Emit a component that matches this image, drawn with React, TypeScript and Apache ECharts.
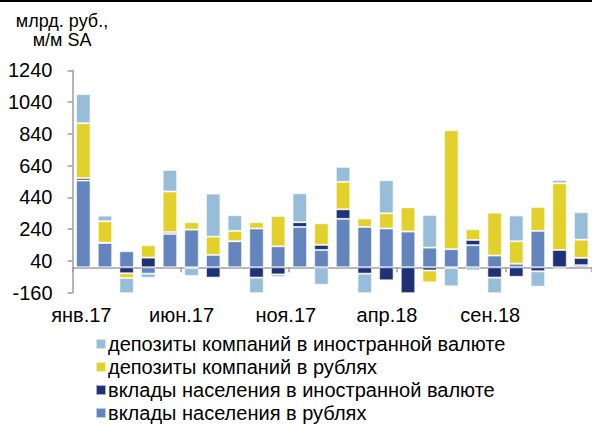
import React, { useEffect, useRef } from "react";
import * as echarts from "echarts";

const months = [
  "янв.17", "фев.17", "мар.17", "апр.17", "май.17", "июн.17", "июл.17", "авг.17", "сен.17", "окт.17", "ноя.17", "дек.17",
  "янв.18", "фев.18", "мар.18", "апр.18", "май.18", "июн.18", "июл.18", "авг.18", "сен.18", "окт.18", "ноя.18", "дек.18",
];

const householdsRub = [546, 153, 101, -40, 210, 237, 78, 164, 244, 132, 254, 109, 305, 254, 244, 225, 124, 114, 139, 74, 23, 229, -8, 13];
const householdsFx = [15, 2, -38, 61, 11, -5, -65, 0, -65, -45, 30, 32, 60, -40, -82, -170, -20, -5, 33, -65, -60, -25, 109, 46];
const companiesRub = [346, 135, -30, 78, 256, 47, 115, 65, 40, 191, 0, 136, 173, 53, 96, 153, -75, 749, 67, 270, 141, 151, 420, 115];
const companiesFx = [183, 35, -101, -27, 136, -50, 271, 99, -107, -17, 182, -110, 94, -130, 208, 0, 206, -115, -20, -107, 162, -97, 21, 173];

const seriesNames = [
  "вклады населения в рублях",
  "вклады населения в иностранной валюте",
  "депозиты компаний в рублях",
  "депозиты компаний в иностранной валюте",
];
const legendOrder = [
  "депозиты компаний в иностранной валюте",
  "депозиты компаний в рублях",
  "вклады населения в иностранной валюте",
  "вклады населения в рублях",
];
const titleLines = ["млрд. руб.,", "м/м SA"];
const colors = ["#6384BC", "#1F3278", "#E2D12B", "#97BDD8"];

const FONT = "'Liberation Sans', Arial, sans-serif";
const FS = 20;

export default function App() {
  const ref = useRef<HTMLDivElement>(null);
  useEffect(() => {
    if (!ref.current) return;
    const chart = echarts.init(ref.current, undefined, { renderer: "svg" });
    const values = [householdsRub, householdsFx, companiesRub, companiesFx];
    const labelShift: Record<string, string> = {
      "янв.17": "a",
      "июн.17": "b",
      "ноя.17": "c",
      "апр.18": "d",
      "сен.18": "e",
    };
    const rich: any = {};
    const shifts: Record<string, number> = { a: 2, b: 10, c: 14, d: 21, e: 26 };
    Object.keys(shifts).forEach((k) => {
      rich[k] = {
        fontSize: FS,
        fontFamily: FONT,
        color: "#000",
        padding: [0, shifts[k] * 2, 0, 0],
      };
    });
    chart.setOption({
      animation: false,
      backgroundColor: "#fff",
      textStyle: { fontFamily: FONT },
      grid: { left: 72.5, top: 70.3, width: 519.5, height: 222.4, containLabel: false },
      legend: {
        data: legendOrder,
        orient: "vertical",
        left: 90,
        top: 328,
        height: 100,
        itemWidth: 10,
        itemHeight: 10,
        itemGap: 1,
        icon: "rect",
        textStyle: { fontSize: FS, fontFamily: FONT, color: "#000", padding: [0, 0, 0, -3], lineHeight: 22 },
      },
      xAxis: [
        {
          type: "category",
          data: months,
          axisLine: { onZero: true, lineStyle: { color: "#9E9E9E", width: 1.5 } },
          axisTick: { show: true, interval: 4, length: 5, lineStyle: { color: "#9E9E9E", width: 1.5 } },
          axisLabel: { show: false },
        },
        {
          type: "category",
          data: months,
          position: "bottom",
          axisLine: { show: false, onZero: false },
          axisTick: { show: false },
          axisLabel: {
            interval: 4,
            margin: 12,
            fontSize: FS,
            fontFamily: FONT,
            color: "#000",
            formatter: (v: string) => (labelShift[v] ? `{${labelShift[v]}|${v}}` : v),
            rich,
          },
        },
      ],
      yAxis: {
        type: "value",
        min: -160,
        max: 1240,
        interval: 200,
        splitLine: { show: false },
        axisLine: { show: true, lineStyle: { color: "#9E9E9E", width: 1.5 } },
        axisTick: { show: true, length: 5, lineStyle: { color: "#9E9E9E", width: 1.5 } },
        axisLabel: {
          margin: 20,
          fontSize: FS,
          fontFamily: FONT,
          color: "#000",
          formatter: (v: number) => String(v),
        },
      },
      series: seriesNames.map((name, i) => ({
        name,
        type: "bar",
        stack: "total",
        xAxisIndex: 0,
        data: values[i],
        barWidth: 14.5,
        itemStyle: { color: colors[i], borderColor: "rgba(255,255,255,0.6)", borderWidth: 1 },
      })),
      graphic: [
        { type: "rect", shape: { x: 0, y: 0, width: 592, height: 2 }, style: { fill: "#000" } },
        ...titleLines.map((t, i) => ({
          type: "text",
          x: 62,
          y: 12 + i * 18.5,
          style: {
            text: t,
            align: "center",
            fontSize: 18,
            fontFamily: FONT,
            fill: "#000",
          },
        })),
      ],
    });
    return () => chart.dispose();
  }, []);
  return (
    <div
      ref={ref}
      style={{ position: "fixed", left: 0, top: 0, width: 592, height: 425, background: "#fff" }}
    />
  );
}
